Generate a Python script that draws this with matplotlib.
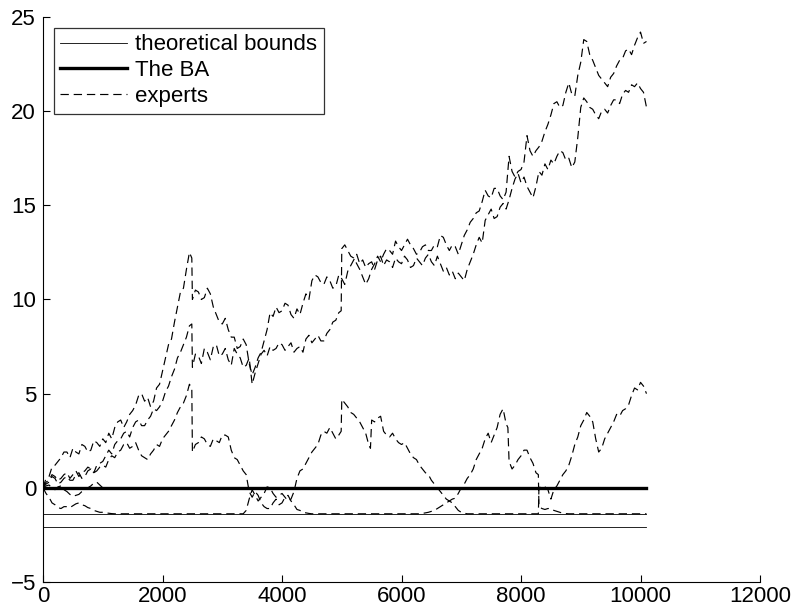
"""
Relative performance of the experts against the BA, with the theoretical bounds
"""
import numpy as np
import matplotlib
matplotlib.use('Agg')
import matplotlib.pyplot as plt

plt.rcParams['font.family'] = ['Liberation Sans', 'DejaVu Sans']
plt.rcParams['lines.scale_dashes'] = False

# time steps shared by all series
grid = np.arange(0, 10101, 50)

bound_levels = [-1.41, -2.08]
ba_level = 0.0
x_end = 10100

expert_a = [
    0.0, 0.5, 0.6, 1.1, 1.2, 1.4, 1.6, 1.9, 1.9, 1.6, 2.1, 1.9, 1.8, 2.3, 2.2, 1.9, 2.0, 2.5, 2.4, 2.2,
    2.6, 2.4, 2.9, 2.6, 3.2, 3.5, 3.6, 3.2, 3.5, 3.9, 4.1, 4.4, 4.9, 5.0, 4.6, 4.8, 4.3, 4.6, 5.3, 5.5,
    6.2, 6.9, 7.6, 7.9, 8.8, 9.6, 10.4, 10.6, 11.6, 12.5, 10.0, 10.5, 10.4, 10.0, 10.1, 10.6, 10.3, 9.6, 9.2, 8.8,
    8.7, 9.0, 8.4, 8.0, 8.0, 7.4, 7.5, 7.9, 7.6, 6.6, 6.0, 6.4, 6.9, 7.2, 7.8, 8.4, 9.3, 9.1, 9.6, 9.3,
    9.4, 9.8, 9.7, 9.2, 9.0, 9.5, 9.2, 9.8, 10.3, 10.0, 11.0, 11.3, 11.2, 10.9, 10.8, 11.2, 11.0, 10.6, 10.7, 11.3,
    11.1, 10.8, 11.5, 11.8, 12.1, 12.4, 11.9, 12.1, 11.7, 11.9, 12.0, 11.6, 12.1, 12.3, 11.8, 12.1, 12.0, 11.7, 12.2, 12.0,
    11.9, 12.3, 12.1, 11.7, 11.8, 12.2, 12.0, 11.8, 12.2, 12.4, 12.0, 11.8, 12.3, 11.9, 11.5, 11.7, 11.3, 11.5, 11.1, 11.4,
    11.2, 11.0, 11.6, 12.0, 12.4, 12.9, 13.3, 13.0, 14.2, 14.5, 14.8, 14.3, 14.4, 14.9, 15.1, 14.8, 15.3, 15.9, 16.4, 16.7,
    16.2, 16.5, 16.0, 15.7, 15.4, 16.0, 16.8, 16.6, 17.2, 16.9, 17.4, 17.2, 17.6, 17.9, 17.8, 17.4, 17.5, 17.0, 17.3, 18.6,
    20.2, 20.7, 20.5, 20.2, 20.1, 19.8, 19.6, 20.0, 20.1, 19.9, 20.3, 20.6, 20.6, 20.4, 20.9, 21.1, 21.0, 21.4, 21.3, 21.5,
    21.2, 21.0, 20.2,
]
expert_a_jumps = [(2490, 12.2)]

expert_b = [
    0.0, 0.3, 0.4, 0.7, 0.6, 0.4, 0.5, 0.7, 0.8, 0.5, 0.7, 0.9, 0.6, 0.8, 0.9, 1.1, 1.0, 0.8, 1.2, 1.3,
    1.4, 1.7, 2.0, 1.8, 2.3, 2.5, 2.6, 2.9, 3.0, 2.7, 3.2, 3.5, 3.6, 3.3, 3.3, 3.6, 3.8, 4.2, 4.1, 4.3,
    4.6, 5.1, 5.4, 5.9, 6.3, 6.9, 7.2, 7.6, 8.0, 8.6, 6.4, 7.1, 7.0, 6.6, 7.4, 7.2, 6.8, 7.5, 7.6, 7.0,
    7.1, 7.4, 6.8, 6.5, 7.4, 7.1, 6.9, 6.4, 6.5, 6.9, 5.5, 6.1, 6.6, 7.1, 7.3, 7.0, 7.5, 7.3, 7.4, 7.7,
    7.6, 7.3, 7.5, 7.7, 7.2, 7.4, 7.5, 7.2, 7.9, 8.1, 7.7, 7.9, 8.1, 7.8, 7.8, 8.2, 8.4, 8.8, 8.9, 9.3,
    12.7, 12.9, 12.6, 12.3, 12.2, 11.9, 11.6, 11.2, 10.8, 11.1, 11.6, 11.9, 12.3, 12.0, 12.4, 12.7, 12.6, 12.4, 13.1, 12.8,
    12.6, 12.9, 13.2, 12.9, 12.7, 12.4, 12.5, 12.8, 12.9, 12.6, 12.6, 12.9, 12.8, 13.4, 13.3, 12.9, 12.6, 12.9, 12.8, 12.4,
    12.9, 13.4, 13.7, 14.1, 14.3, 14.6, 14.7, 15.2, 15.8, 15.5, 15.4, 15.9, 15.9, 15.5, 15.3, 15.7, 17.6, 16.8, 16.5, 16.8,
    16.9, 17.3, 18.7, 17.9, 17.6, 17.9, 18.1, 18.4, 18.9, 19.3, 19.8, 20.4, 20.5, 20.2, 20.3, 21.0, 21.5, 20.9, 20.8, 21.9,
    22.6, 23.8, 23.7, 23.0, 22.7, 22.3, 21.9, 21.7, 21.5, 21.3, 21.8, 22.0, 22.4, 22.7, 22.8, 23.2, 23.3, 23.0, 23.5, 23.9,
    24.2, 23.6, 23.7,
]
expert_b_jumps = [(2490, 8.7), (4990, 9.4)]

expert_c = [
    0.0, 0.2, 0.3, 0.6, 0.5, 0.2, 0.3, 0.5, 0.6, 0.4, 0.4, 0.7, 0.8, 0.5, 0.6, 0.9, 1.0, 0.8, 0.9, 1.1,
    1.2, 1.1, 1.5, 1.7, 1.6, 1.9, 2.0, 2.3, 2.4, 2.1, 2.2, 2.4, 2.0, 1.7, 1.6, 1.5, 1.8, 2.0, 2.3, 2.2,
    2.6, 2.8, 3.0, 3.3, 3.6, 4.0, 4.3, 4.5, 4.9, 5.5, 1.9, 2.3, 2.4, 2.7, 2.6, 2.3, 2.2, 2.6, 2.5, 2.4,
    2.8, 2.8, 2.7, 2.0, 1.6, 1.5, 1.2, 0.9, 0.7, -0.2, -0.5, -0.2, -0.4, -0.8, -1.0, -1.1, -1.1, -0.8, -0.6, -0.9,
    -0.8, -0.5, -0.4, -0.7, -0.9, -1.15, -1.2, -1.3, -1.33, -1.36, -1.38, -1.38, -1.38, -1.38, -1.38, -1.38, -1.38, -1.38, -1.38, -1.38,
    -1.38, -1.38, -1.38, -1.38, -1.38, -1.38, -1.38, -1.38, -1.38, -1.38, -1.38, -1.38, -1.38, -1.38, -1.38, -1.38, -1.38, -1.38, -1.38, -1.38,
    -1.38, -1.38, -1.38, -1.38, -1.38, -1.38, -1.38, -1.36, -1.33, -1.3, -1.25, -1.2, -1.1, -1.0, -0.9, -0.8, -0.7, -0.6, -0.55, -0.3,
    0.0, 0.2, 0.5, 0.7, 1.0, 1.5, 1.8, 2.1, 2.6, 2.9, 2.4, 2.8, 3.2, 3.9, 4.2, 3.4, 1.4, 1.0, 1.2, 1.5,
    1.7, 2.0, 2.0, 1.6, 1.3, 0.8, -1.0, -1.1, -1.15, -1.1, -1.1, -1.2, -1.25, -1.3, -1.35, -1.37, -1.38, -1.38, -1.38, -1.38,
    -1.38, -1.38, -1.38, -1.38, -1.38, -1.38, -1.38, -1.38, -1.38, -1.38, -1.38, -1.38, -1.38, -1.38, -1.38, -1.38, -1.38, -1.38, -1.38, -1.38,
    -1.38, -1.38, -1.38,
]
expert_c_jumps = [(2490, 5.3), (7780, 3.2), (8290, 0.7)]

expert_d = [
    0.0, 0.1, 0.15, 0.0, -0.1, 0.05, 0.1, -0.1, -0.2, -0.35, -0.45, -0.4, -0.35, -0.2, -0.1, 0.0, 0.1, 0.25, 0.3, 0.15,
    0.0,
]
expert_d_jumps = []

expert_e = [
    0.0, -0.3, -0.5, -0.8, -0.9, -1.05, -1.1, -1.0, -1.0, -1.05, -0.95, -0.85, -0.8, -0.9, -0.95, -1.05, -1.1, -1.2, -1.25, -1.3,
    -1.3, -1.33, -1.35, -1.37, -1.38, -1.38, -1.38, -1.38, -1.38, -1.38, -1.38, -1.38, -1.38, -1.38, -1.38, -1.38, -1.38, -1.38, -1.38, -1.38,
    -1.38, -1.38, -1.38, -1.38, -1.38, -1.38, -1.38, -1.38, -1.38, -1.38, -1.38, -1.38, -1.38, -1.38, -1.38, -1.38, -1.38, -1.38, -1.38, -1.38,
    -1.38, -1.38, -1.38, -1.38, -1.38, -1.38, -1.38, -1.38, -1.2, -0.6, -0.1, -0.4, -0.7, -0.5, -0.3, 0.05, 0.0, -0.3, -0.5, -0.4,
    -0.3, -0.5, -0.7, -0.6, -0.2, 0.5, 0.9, 1.0, 1.3, 1.6, 1.9, 2.1, 2.3, 2.8, 3.0, 2.9, 3.2, 2.9, 2.6, 2.8,
    4.7, 4.5, 4.3, 4.0, 3.9, 3.7, 3.5, 3.2, 2.9, 2.3, 3.6, 3.5, 3.7, 3.8, 3.0, 2.8, 2.7, 2.9, 2.6, 2.4,
    2.3, 2.4, 2.1, 1.8, 1.6, 1.5, 1.2, 1.0, 0.8, 0.7, 0.4, 0.2, 0.0, -0.2, -0.4, -0.6, -0.7, -0.8, -1.0, -1.2,
    -1.3, -1.35, -1.38, -1.38, -1.38, -1.38, -1.38, -1.38, -1.38, -1.38, -1.38, -1.38, -1.38, -1.38, -1.38, -1.38, -1.38, -1.38, -1.38, -1.38,
    -1.38, -1.38, -1.38, -1.38, -1.38, -1.38, 0.0, 0.1, 0.05, -0.1, -0.6, -0.1, 0.1, 0.4, 0.7, 0.9, 1.2, 1.7, 2.3, 2.7,
    3.3, 3.6, 4.0, 3.8, 3.5, 2.6, 1.9, 2.1, 2.6, 2.9, 3.2, 3.5, 3.9, 3.8, 4.1, 4.2, 4.4, 4.9, 5.3, 5.2,
    5.6, 5.4, 5.0,
]
expert_e_jumps = [(4990, 3.0), (5480, 2.1), (8290, -1.38)]


def with_jumps(values, jumps):
    """Merge the grid values with the extra points just before each jump."""
    points = sorted(list(zip(grid[:len(values)], values)) + jumps)
    xs, ys = zip(*points)
    return xs, ys


fig = plt.figure(figsize=(7.94, 6.13), dpi=100)
axis = fig.add_axes([0.0542, 0.0506, 0.903, 0.9217])

experts = [
    (expert_a, expert_a_jumps),
    (expert_b, expert_b_jumps),
    (expert_c, expert_c_jumps),
    (expert_d, expert_d_jumps),
    (expert_e, expert_e_jumps),
]

for i, level in enumerate(bound_levels):
    axis.plot([0, x_end], [level, level], color='k', lw=0.6,
              label='theoretical bounds' if i == 0 else None, zorder=2)

axis.plot([0, x_end], [ba_level, ba_level], color='k', lw=2.4, label='The BA', zorder=4)

for i, (values, jumps) in enumerate(experts):
    xs, ys = with_jumps(values, jumps)
    axis.plot(xs, ys, color='k', lw=0.85, linestyle=(0, (6, 3.5)),
              label='experts' if i == 0 else None, zorder=3)

axis.set_xlim(0, 12000)
axis.set_ylim(-5, 25)
axis.set_xticks(range(0, 12001, 2000))
axis.set_yticks(range(-5, 26, 5))
axis.spines['top'].set_visible(False)
axis.spines['right'].set_visible(False)
axis.tick_params(direction='in', length=5, width=0.8, labelsize=16)
axis.tick_params(axis='x', pad=3)
axis.tick_params(axis='y', pad=5)

legend = axis.legend(loc='upper left', bbox_to_anchor=(0.015, 0.981), borderaxespad=0,
                     fancybox=False, edgecolor='k', fontsize=16, handlelength=3.0,
                     handletextpad=0.35, labelspacing=0.22, borderpad=0.3)
legend.get_frame().set_linewidth(0.9)

fig.savefig('out.png', dpi=100)
plt.close(fig)
